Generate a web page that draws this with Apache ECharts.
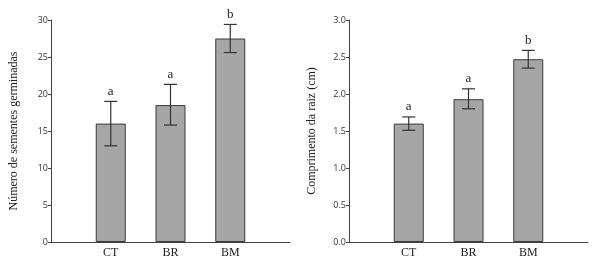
<!DOCTYPE html>
<html>
<head>
<meta charset="utf-8">
<script src="https://cdn.jsdelivr.net/npm/echarts@6/dist/echarts.min.js"></script>
<style>
  html, body { margin: 0; padding: 0; background: #fff; }
  #main { width: 593px; height: 266px; }
</style>
</head>
<body>
<div id="main"></div>
<script>
// categorias (com posicoes vazias nas pontas)
var cats = ['', 'CT', 'BR', 'BM', ''];

// numero de sementes germinadas
var germMean = ['-', 16, 18.5, 27.5, '-'];
var germLow = [null, 13, 15.8, 25.6, null];
var germHigh = [null, 19, 21.3, 29.4, null];
var germLetters = ['', 'a', 'a', 'b', ''];

// comprimento da raiz (cm)
var raizMean = ['-', 1.6, 1.93, 2.47, '-'];
var raizLow = [null, 1.51, 1.80, 2.35, null];
var raizHigh = [null, 1.69, 2.07, 2.59, null];
var raizLetters = ['', 'a', 'a', 'b', ''];

var axisColor = '#444';

function errData(low, high, letters) {
    var out = [];
    for (var i = 0; i < cats.length; i++) {
        if (low[i] == null) continue;
        out.push([i, low[i], high[i], letters[i]]);
    }
    return out;
}

function renderErr(params, api) {
    var x = api.value(0);
    var lo = api.coord([x, api.value(1)]);
    var hi = api.coord([x, api.value(2)]);
    var hw = 6.5;
    var st = { stroke: '#333', lineWidth: 1.2 };
    return {
        type: 'group',
        children: [
            { type: 'line', shape: { x1: lo[0], y1: lo[1], x2: hi[0], y2: hi[1] }, style: st },
            { type: 'line', shape: { x1: lo[0] - hw, y1: lo[1], x2: lo[0] + hw, y2: lo[1] }, style: st },
            { type: 'line', shape: { x1: hi[0] - hw, y1: hi[1], x2: hi[0] + hw, y2: hi[1] }, style: st },
            { type: 'text', x: hi[0], y: hi[1] - 10, style: {
                text: api.value(3), fill: '#222', font: '13px "Liberation Serif"',
                align: 'center', verticalAlign: 'middle' } }
        ]
    };
}

function yAxis(idx, max, interval, name, dec) {
    return {
        gridIndex: idx, type: 'value', min: 0, max: max, interval: interval,
        name: name, nameLocation: 'middle', nameGap: 31,
        nameTextStyle: { fontFamily: 'Liberation Serif', fontSize: 12, color: '#222' },
        axisLine: { show: true, lineStyle: { color: axisColor, width: 1 } },
        axisTick: { show: true, length: 3, lineStyle: { color: axisColor } },
        splitLine: { show: false },
        axisLabel: { fontFamily: 'Open Sans', fontSize: 9, color: '#333', margin: 3,
            formatter: function (v) { return dec ? v.toFixed(1) : v; } }
    };
}

function xAxis(idx) {
    return {
        gridIndex: idx, type: 'category', data: cats, boundaryGap: false,
        axisLine: { lineStyle: { color: axisColor, width: 1 } },
        axisTick: { show: false },
        axisLabel: { fontFamily: 'Liberation Serif', fontSize: 12, color: '#222', margin: 5, interval: 0 }
    };
}

var myChart = echarts.init(document.getElementById('main'));

option = {
    backgroundColor: '#fff',
    animation: false,
    grid: [
        { left: 51, width: 239, top: 20, bottom: 24 },
        { left: 349, width: 239, top: 20, bottom: 24 }
    ],
    xAxis: [xAxis(0), xAxis(1)],
    yAxis: [
        yAxis(0, 30, 5, 'Número de sementes germinadas', false),
        yAxis(1, 3, 0.5, 'Comprimento da raiz (cm)', true)
    ],
    series: [
        {
            type: 'bar', xAxisIndex: 0, yAxisIndex: 0, data: germMean, barWidth: 30,
            itemStyle: { color: '#a6a6a6', borderColor: '#3a3a3a', borderWidth: 1 }
        },
        {
            type: 'custom', xAxisIndex: 0, yAxisIndex: 0, renderItem: renderErr,
            data: errData(germLow, germHigh, germLetters), z: 5
        },
        {
            type: 'bar', xAxisIndex: 1, yAxisIndex: 1, data: raizMean, barWidth: 30,
            itemStyle: { color: '#a6a6a6', borderColor: '#3a3a3a', borderWidth: 1 }
        },
        {
            type: 'custom', xAxisIndex: 1, yAxisIndex: 1, renderItem: renderErr,
            data: errData(raizLow, raizHigh, raizLetters), z: 5
        }
    ]
};
myChart.setOption(option);
</script>
</body>
</html>
